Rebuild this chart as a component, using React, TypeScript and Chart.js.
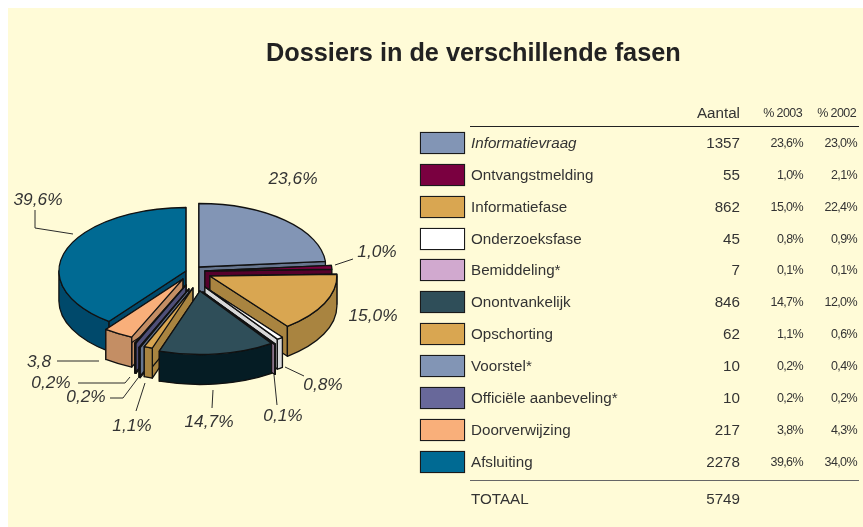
import React, { useEffect, useRef } from "react";
import { Chart, registerables } from "chart.js";

Chart.register(...registerables);

const title = "Dossiers in de verschillende fasen";
const categories = ["Informatievraag", "Ontvangstmelding", "Informatiefase", "Onderzoeksfase", "Bemiddeling*", "Onontvankelijk", "Opschorting", "Voorstel*", "Officiële aanbeveling*", "Doorverwijzing", "Afsluiting"];
const aantal = [1357, 55, 862, 45, 7, 846, 62, 10, 10, 217, 2278];
const pct2003 = ["23,6%", "1,0%", "15,0%", "0,8%", "0,1%", "14,7%", "1,1%", "0,2%", "0,2%", "3,8%", "39,6%"];
const pct2002 = ["23,0%", "2,1%", "22,4%", "0,9%", "0,1%", "12,0%", "0,6%", "0,4%", "0,2%", "4,3%", "34,0%"];
const pieLabels = ["23,6%", "1,0%", "15,0%", "0,8%", "0,1%", "14,7%", "1,1%", "0,2%", "0,2%", "3,8", "39,6%"];
const columnHeads = ["Aantal", "% 2003", "% 2002"];
const totalLabel = "TOTAAL";
const totalValue = 5749;

const topColors = ["#8295B5", "#7A0040", "#D9A651", "#FFFFFF", "#D1A9CF", "#2F4E59", "#D9A651", "#8295B5", "#68689A", "#F9AF7A", "#006A93"];
const sideColors = ["#67768F", "#55002C", "#A98440", "#D8D8D8", "#A98BA8", "#051C24", "#A98440", "#67768F", "#4F4F78", "#C48E64", "#00496B"];

const TEXT = "#333333";
const FONT = '"Liberation Sans", Arial, sans-serif';

const SQUASH = 0.5;
const DEPTH = 30;
// how far each slice is pulled out of the pie, on screen
const explode = [[5.4, -4], [11.4, 0], [16.4, 5], [11.4, 16], [9.4, 21], [6.4, 20], [-0.6, 17], [-4.6, 18], [-7.6, 14], [-10.6, 8], [-7.6, 0]];
const paintOrder = [0, 1, 10, 2, 3, 4, 9, 8, 7, 6, 5];
// centre of each pie label
const labelAnchors = [[293, 179], [377, 252], [373, 316], [323, 385], [283, 416], [209, 422], [132, 426], [86, 397], [51, 383], [39, 362], [38, 200]];
const leaders = [
  [[335, 265], [353, 259]],
  [[285, 367], [304, 376]],
  [[274, 375], [277, 405]],
  [[213, 390], [212, 408]],
  [[145, 383], [136, 411]],
  [[138, 378], [123, 398], [110, 398]],
  [[130, 377], [125, 383], [78, 383]],
  [[57, 361], [99, 361]],
  [[35, 210], [35, 228], [73, 234]],
];

const pie3d = {
  id: "pie3d",
  beforeDatasetDraw(chart: any) {
    const ctx = chart.ctx;
    const arcs = chart.getDatasetMeta(0).data;
    ctx.save();
    ctx.lineJoin = "round";
    ctx.strokeStyle = "#111111";
    ctx.lineWidth = 1.3;
    for (const i of paintOrder) {
      const arc = arcs[i];
      const { x, y, startAngle: a0, endAngle: a1, outerRadius: r } = arc;
      const cx = x + explode[i][0];
      const cy = y + explode[i][1];
      const ry = r * SQUASH;
      const px = (a: number) => cx + r * Math.cos(a);
      const py = (a: number) => cy + ry * Math.sin(a);
      ctx.fillStyle = sideColors[i];
      // cut faces
      for (const a of [a0, a1]) {
        ctx.beginPath();
        ctx.moveTo(cx, cy);
        ctx.lineTo(px(a), py(a));
        ctx.lineTo(px(a), py(a) + DEPTH);
        ctx.lineTo(cx, cy + DEPTH);
        ctx.closePath();
        ctx.fill();
        ctx.stroke();
      }
      // rim, front half only
      const f0 = Math.max(a0, 0);
      const f1 = Math.min(a1, Math.PI);
      if (f0 < f1) {
        ctx.beginPath();
        ctx.ellipse(cx, cy, r, ry, 0, f0, f1);
        ctx.ellipse(cx, cy + DEPTH, r, ry, 0, f1, f0, true);
        ctx.closePath();
        ctx.fill();
        ctx.stroke();
      }
      // top face: the library's own arc, squashed
      ctx.save();
      ctx.translate(cx, cy);
      ctx.scale(1, SQUASH);
      ctx.translate(-x, -y);
      arc.draw(ctx);
      ctx.restore();
      ctx.beginPath();
      ctx.moveTo(cx, cy);
      ctx.ellipse(cx, cy, r, ry, 0, a0, a1);
      ctx.closePath();
      ctx.stroke();
    }
    // leader lines
    ctx.strokeStyle = "#2a2a2a";
    ctx.lineWidth = 1;
    for (const line of leaders) {
      ctx.beginPath();
      line.forEach(([lx, ly], k) => (k ? ctx.lineTo(lx, ly) : ctx.moveTo(lx, ly)));
      ctx.stroke();
    }
    // labels
    ctx.fillStyle = TEXT;
    ctx.font = `italic 17.3px ${FONT}`;
    ctx.textAlign = "center";
    ctx.textBaseline = "middle";
    pieLabels.forEach((t, i) => ctx.fillText(t, labelAnchors[i][0], labelAnchors[i][1]));
    ctx.restore();
    return false;
  },
};

const abs = (extra: React.CSSProperties): React.CSSProperties => ({ position: "absolute", whiteSpace: "nowrap", ...extra });
const ROW0 = 143;
const ROWSTEP = 31.87;
const rightCell = (text: string | number, right: number, y: number, small: boolean, key: string) => (
  <div
    key={key}
    style={abs({
      right: 863 - right,
      top: y - 10,
      height: 20,
      lineHeight: "20px",
      fontSize: small ? 12.5 : 15.2,
      letterSpacing: small ? "-0.6px" : "0",
      color: TEXT,
    })}
  >
    {text}
  </div>
);

export default function App() {
  const ref = useRef<HTMLCanvasElement>(null);
  useEffect(() => {
    const chart = new Chart(ref.current!, {
      type: "pie",
      data: {
        labels: categories,
        datasets: [{ data: aantal, backgroundColor: topColors, borderWidth: 0 }],
      },
      plugins: [pie3d],
      options: {
        responsive: false,
        animation: false,
        events: [],
        radius: 127,
        layout: { padding: { left: 0, right: 476, top: 15, bottom: 0 } },
        plugins: { legend: { display: false }, title: { display: false }, tooltip: { enabled: false } },
      } as any,
    });
    return () => chart.destroy();
  }, []);

  return (
    <div style={{ position: "absolute", left: 0, top: 0, width: 863, height: 527, background: "#fff", overflow: "hidden", fontFamily: FONT }}>
      <div style={abs({ left: 8, top: 8, width: 855, height: 519, background: "#FFFBD7" })} />
      <canvas ref={ref} width={863} height={527} style={{ position: "absolute", left: 0, top: 0 }} />
      <div style={abs({ left: 266, top: 37, fontSize: 25.3, lineHeight: "30px", fontWeight: "bold", color: "#222" })}>{title}</div>
      {rightCell(columnHeads[0], 740, 113, false, "h0")}
      {rightCell(columnHeads[1], 802, 113, true, "h1")}
      {rightCell(columnHeads[2], 856, 113, true, "h2")}
      <div style={abs({ left: 470, top: 126, width: 389, height: 1, background: "#222" })} />
      {categories.map((c, i) => {
        const y = ROW0 + i * ROWSTEP;
        return (
          <React.Fragment key={c}>
            <div style={abs({ left: 420, top: y - 11, width: 43, height: 20, background: topColors[i], border: "1px solid #1a1a1a", boxShadow: "0 0 1px #777" })} />
            <div style={abs({ left: 471, top: y - 10, height: 20, lineHeight: "20px", fontSize: 15.2, color: TEXT, fontStyle: i === 0 ? "italic" : "normal" })}>{c}</div>
            {rightCell(aantal[i], 740, y, false, "a" + i)}
            {rightCell(pct2003[i], 803, y, true, "b" + i)}
            {rightCell(pct2002[i], 857, y, true, "c" + i)}
          </React.Fragment>
        );
      })}
      <div style={abs({ left: 470, top: 480, width: 389, height: 1, background: "#666" })} />
      <div style={abs({ left: 471, top: 489, height: 20, lineHeight: "20px", fontSize: 15.2, color: TEXT })}>{totalLabel}</div>
      {rightCell(totalValue, 740, 499, false, "tot")}
    </div>
  );
}
